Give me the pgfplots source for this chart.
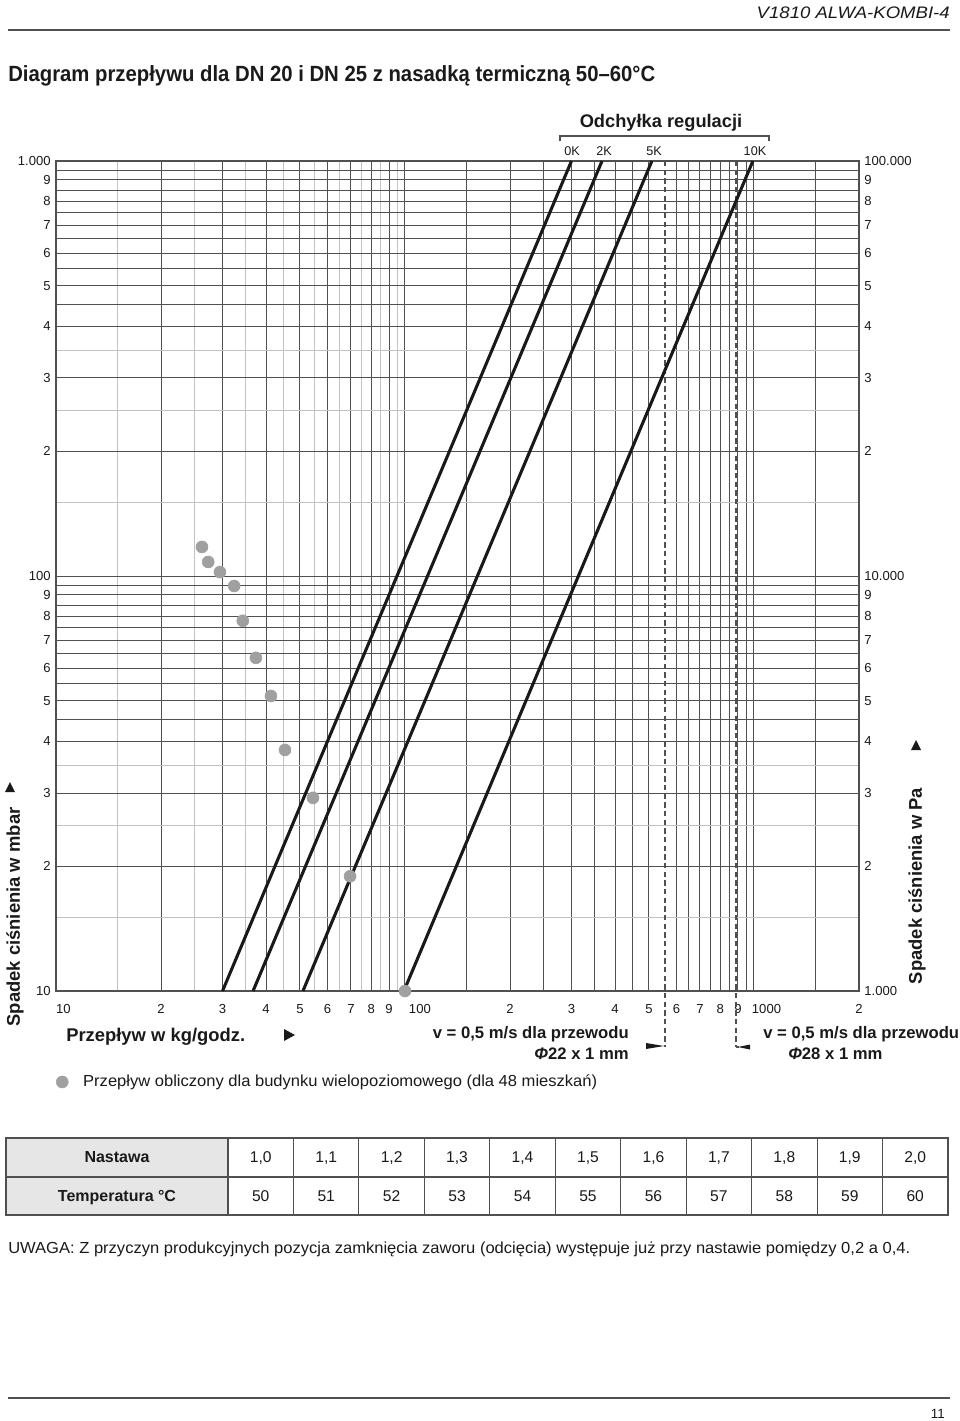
\documentclass[border=0pt]{standalone}
\usepackage{pgfplots}
\pgfplotsset{compat=1.18}
\usepackage{fontspec}
\setmainfont{Liberation Sans}
\usepackage{graphicx}
\definecolor{gdark}{HTML}{505050}
\definecolor{glight}{HTML}{C2C2C2}
\definecolor{dotgray}{HTML}{A0A0A0}
\definecolor{tabgray}{HTML}{E6E6E6}
\definecolor{txt}{HTML}{1A1A1A}
\newcommand{\fs}[1]{\fontsize{#1}{#1}\selectfont}
\begin{document}
\begin{tikzpicture}[x=0.75pt,y=-0.75pt]
\path[use as bounding box] (0,0) rectangle (960,1421);
\fill[white] (0,0) rectangle (960,1421);
% header
\node[anchor=base east, inner sep=0pt, text=txt] at (950,18) {\resizebox{144.75pt}{\height}{\fs{12.5}\itshape V1810 ALWA-KOMBI-4}};
\draw[gdark, line width=1.1pt] (8,30) -- (950,30);
\node[anchor=base west, inner sep=0pt, text=txt] at (8,81) {\resizebox{485.25pt}{\height}{\fs{16.5}\bfseries Diagram przepływu dla DN 20 i DN 25 z nasadką termiczną 50–60°C}};
% Odchyłka
\node[anchor=base, inner sep=0pt, text=txt] at (661,127) {\fs{13.7}\bfseries Odchyłka regulacji};
\draw[gdark, line width=0.8pt] (560,141) -- (560,136) -- (769,136) -- (769,141);
\foreach \xx/\tt in {572/0K,604/2K,654/5K,755/10K}{
  \node[inner sep=0pt, text=txt, font=\fs{9.5}] at (\xx,151) {\tt};
}
\begin{axis}[
  at={(42pt,-743.25pt)}, anchor=south west,
  scale only axis, width=602.25pt, height=622.5pt,
  xmode=log, ymode=log, xmin=10, xmax=2000, ymin=10, ymax=1000,
  clip=false,
  axis line style={gdark, line width=1.1pt},
  grid=both,
  major grid style={gdark, line width=0.75pt},
  minor grid style={glight, line width=0.75pt},
  major tick length=0pt, minor tick length=0pt,
  xtick={10,20,30,40,50,60,70,80,90,100,150,200,250,300,350,400,450,500,600,650,700,750,800,850,900,950,1000,1500,2000},
  xticklabels={{\makebox[0pt][l]{10}},2,3,4,5,6,7,8,9,{\makebox[0pt][l]{\hspace{3pt}100}},,2,,3,,4,,5,6,,7,,8,,9,,{\makebox[0pt][l]{\hspace{-1.5pt}1000}},,2},
  minor xtick={15,25,35,45,55,65,75,85,95},
  ytick={10,20,30,40,45,50,55,60,65,70,75,80,85,90,95,100,200,300,400,450,500,550,600,650,700,750,800,850,900,950,1000},
  yticklabels={10,2,3,4,,5,,6,,7,,8,,9,,100,2,3,4,,5,,6,,7,,8,,9,,1.000},
  minor ytick={15,25,35,150,250,350},
  xticklabel style={font=\fs{9.8}, text=txt, yshift=-6.5pt},
  yticklabel style={font=\fs{9.8}, text=txt, xshift=-0.5pt},
  legend style={at={(0,-0.1096)}, anchor=west, draw=none, fill=none, inner sep=0pt, outer sep=0pt, /tikz/column sep=11pt, nodes={inner sep=0pt}},
]
\addplot[forget plot, gdark, line width=0.9pt, dash pattern=on 4pt off 2.5pt] coordinates {(556,1000) (556,7.33)};
\addplot[forget plot, gdark, line width=0.9pt, dash pattern=on 4pt off 2.5pt] coordinates {(888,1000) (888,7.33)};
\addplot[forget plot, black!90, line width=2.3pt] coordinates {(30,10) (300,1000)};
\addplot[forget plot, black!90, line width=2.3pt] coordinates {(36.7,10) (367,1000)};
\addplot[forget plot, black!90, line width=2.3pt] coordinates {(51,10) (510,1000)};
\addplot[forget plot, black!90, line width=2.3pt] coordinates {(99.3,10) (993,1000)};
\addplot[color=dotgray, only marks, mark=*, mark size=4.5pt, mark options={solid, fill=dotgray, draw=dotgray},
  legend image code/.code={\fill[dotgray] (4.5pt,0pt) circle (4.5pt);}]
  coordinates {(26.2,117.5) (27.3,108.1) (29.5,102.2) (32.4,94.6) (34.3,78.0) (37.4,63.5) (41.3,51.4) (45.3,38.1) (54.5,29.2) (69.6,18.9) (100,10)};
\addlegendentry{\resizebox{385.5pt}{\height}{\fs{12}\color{txt}Przepływ obliczony dla budynku wielopoziomowego (dla 48 mieszkań)}}
\end{axis}
\begin{axis}[
  at={(42pt,-743.25pt)}, anchor=south west,
  scale only axis, width=602.25pt, height=622.5pt,
  xmode=log, ymode=log, xmin=10, xmax=2000, ymin=10, ymax=1000,
  axis x line=none, axis y line*=right,
  axis line style={gdark, line width=1.1pt},
  major tick length=0pt, minor tick length=0pt,
  ytick={10,20,30,40,45,50,55,60,65,70,75,80,85,90,95,100,200,300,400,450,500,550,600,650,700,750,800,850,900,950,1000},
  yticklabels={1.000,2,3,4,,5,,6,,7,,8,,9,,10.000,2,3,4,,5,,6,,7,,8,,9,,100.000},
  yticklabel style={font=\fs{9.8}, text=txt, anchor=west, xshift=0.5pt},
]
\addplot[draw=none] coordinates {(10,10)};
\end{axis}
% axis titles
\node[rotate=90, inner sep=0pt, text=txt, font=\fs{13.8}\bfseries] at (15,917) {Spadek ciśnienia w mbar};
\fill[txt] (5,792) -- (15,792) -- (10,782) -- cycle;
\node[rotate=90, inner sep=0pt, text=txt, font=\fs{13.8}\bfseries] at (917,886) {Spadek ciśnienia w Pa};
\fill[txt] (911,750) -- (921,750) -- (916,740) -- cycle;
\node[anchor=base west, inner sep=0pt, text=txt, font=\fs{13.8}\bfseries] at (66,1041) {Przepływ w kg/godz.};
\fill[txt] (284,1029) -- (284,1041) -- (295,1035) -- cycle;
\node[anchor=base east, inner sep=0pt, text=txt, font=\fs{12.5}\bfseries] at (629,1038) {v = 0,5 m/s dla przewodu};
\node[anchor=base east, inner sep=0pt, text=txt, font=\fs{12.5}\bfseries] at (629,1059) {\textit{Φ}22 x 1 mm};
\fill[txt] (646,1043) -- (664,1046) -- (646,1049) -- cycle;
\node[anchor=base west, inner sep=0pt, text=txt, font=\fs{12.5}\bfseries] at (763,1038) {v = 0,5 m/s dla przewodu};
\node[anchor=base west, inner sep=0pt, text=txt, font=\fs{12.5}\bfseries] at (788,1059) {\textit{Φ}28 x 1 mm};
\draw[gdark, line width=0.8pt] (736,1047) -- (739,1047);
\fill[txt] (750,1044.5) -- (738,1047) -- (750,1049.5) -- cycle;
% table
\fill[tabgray] (6,1138) rectangle (228,1215);
\draw[gdark, line width=0.8pt] (6,1177) -- (948,1177);
\foreach \k in {0,...,10}{
  \draw[gdark, line width=0.8pt] ({228+65.45*\k},1138) -- ({228+65.45*\k},1215);
}
\draw[gdark, line width=1.2pt] (6,1138) rectangle (948,1215);
\node[anchor=base, inner sep=0pt, text=txt, font=\fs{12}\bfseries] at (117,1162) {Nastawa};
\node[anchor=base, inner sep=0pt, text=txt, font=\fs{12}\bfseries] at (117,1201) {Temperatura °C};
\foreach \k/\a/\b in {0/{1,0}/50,1/{1,1}/51,2/{1,2}/52,3/{1,3}/53,4/{1,4}/54,5/{1,5}/55,6/{1,6}/56,7/{1,7}/57,8/{1,8}/58,9/{1,9}/59,10/{2,0}/60}{
  \node[anchor=base, inner sep=0pt, text=txt, font=\fs{11.7}] at ({228+65.45*(\k+0.5)},1162) {\a};
  \node[anchor=base, inner sep=0pt, text=txt, font=\fs{11.7}] at ({228+65.45*(\k+0.5)},1201) {\b};
}
\node[anchor=base west, inner sep=0pt, text=txt] at (8,1253) {\resizebox{676.5pt}{\height}{\fs{12}UWAGA: Z przyczyn produkcyjnych pozycja zamknięcia zaworu (odcięcia) występuje już przy nastawie pomiędzy 0,2 a 0,4.}};
% footer
\draw[gdark, line width=1.5pt] (8,1398) -- (950,1398);
\node[anchor=base east, inner sep=0pt, text=txt, font=\fs{10}] at (945,1418) {11};
\end{tikzpicture}
\end{document}
